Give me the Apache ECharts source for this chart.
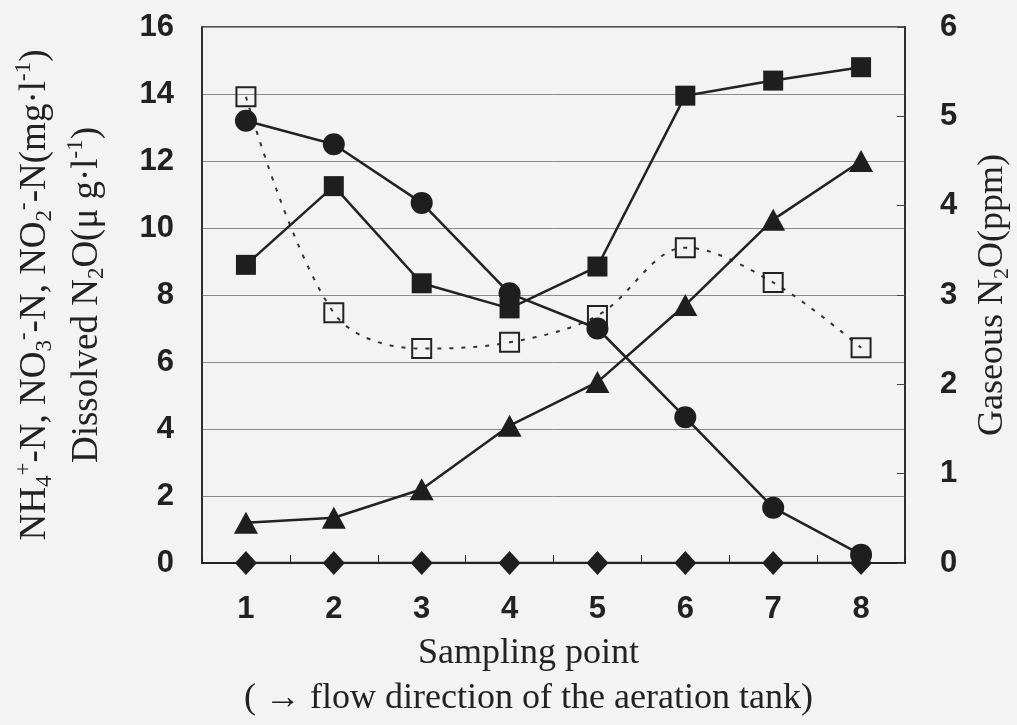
<!DOCTYPE html>
<html><head><meta charset="utf-8">
<script src="https://cdn.jsdelivr.net/npm/echarts@6/dist/echarts.min.js"></script>
<style>html,body{margin:0;padding:0;background:#f3f3f3;}#c{width:1017px;height:725px;}</style>
</head><body><div id="c"></div>
<script>
const categories = ['1','2','3','4','5','6','7','8'];
const nh4 = [13.2, 12.5, 10.75, 8.05, 7.0, 4.35, 1.65, 0.25];      // filled circle
const no3 = [8.9, 11.25, 8.35, 7.6, 8.85, 13.95, 14.4, 14.8];       // filled square
const no2 = [1.2, 1.35, 2.2, 4.1, 5.4, 7.7, 10.25, 12.0];           // filled triangle
const dissolved = [0, 0, 0, 0, 0, 0, 0, 0];                        // filled diamond
const gaseous = [5.22, 2.8, 2.4, 2.47, 2.77, 3.53, 3.14, 2.41];     // open square (right axis)
const leftTicks = {min: 0, max: 16, interval: 2};
const rightTicks = {min: 0, max: 6, interval: 1};

const serif = '"Liberation Serif","Times New Roman",serif';
const sans = '"Liberation Sans",Arial,sans-serif';
function makeRich(fs, lh) {
  const s = Math.round(fs * 0.62);
  return {
    n: {fontFamily: serif, fontSize: fs, color: '#222', lineHeight: lh},
    sub: {fontFamily: serif, fontSize: s, color: '#222', padding: [Math.round(fs * 0.53), 0, 0, 0]},
    sup: {fontFamily: serif, fontSize: s, color: '#222', padding: [0, 0, Math.round(fs * 0.59), 0]}
  };
}
const tickFont = {fontFamily: sans, fontSize: 31, fontWeight: 'bold', color: '#222'};
const chart = echarts.init(document.getElementById('c'));
const lineBase = {type: 'line', symbolKeepAspect: true, z: 3};
chart.setOption({
  backgroundColor: '#f3f3f3',
  animation: false,
  grid: {left: 202, right: 112, top: 27, bottom: 162, containLabel: false, outerBoundsMode: 'none',
    show: true, borderColor: '#222', borderWidth: 1.5, backgroundColor: 'transparent'},
  xAxis: {
    type: 'category', data: categories, boundaryGap: true,
    axisLine: {lineStyle: {color: '#222', width: 2}},
    axisTick: {show: true, inside: true, length: 8, lineStyle: {color: '#222', width: 1}},
    axisLabel: Object.assign({margin: 31}, tickFont),
    name: '{n|Sampling point}\n{n|( → flow direction of the aeration tank)}',
    nameLocation: 'middle', nameGap: 68,
    nameTextStyle: {rich: makeRich(36, 45), padding: [0, 50, 0, 0]}
  },
  yAxis: [{
    type: 'value', min: leftTicks.min, max: leftTicks.max, interval: leftTicks.interval,
    axisLine: {show: true, lineStyle: {color: '#222', width: 1.5}},
    axisTick: {show: false},
    splitLine: {show: true, lineStyle: {color: '#8a8a8a', width: 1}},
    axisLabel: Object.assign({margin: 28}, tickFont),
    name: '{n|NH}{sub|4}{sup|+}{n|-N, NO}{sub|3}{sup|-}{n|-N, NO}{sub|2}{sup|-}{n|-N(mg·l}{sup|-1}{n|)}\n{n|Dissolved N}{sub|2}{n|O(}{n|μ g·l}{sup|-1}{n|)}',
    nameLocation: 'middle', nameRotate: 90, nameGap: 89,
    nameTextStyle: {rich: makeRich(37, 52)}
  }, {
    type: 'value', min: rightTicks.min, max: rightTicks.max, interval: rightTicks.interval,
    position: 'right',
    axisLine: {show: true, lineStyle: {color: '#222', width: 1.5}},
    axisTick: {show: true, inside: true, length: 8, lineStyle: {color: '#444', width: 1}},
    splitLine: {show: false},
    axisLabel: Object.assign({margin: 35}, tickFont),
    name: '{n|Gaseous N}{sub|2}{n|O(ppm)}',
    nameLocation: 'middle', nameRotate: 90, nameGap: 65,
    nameTextStyle: {rich: makeRich(36, 45)}
  }],
  series: [
    Object.assign({}, lineBase, {name: 'Gaseous', data: gaseous, yAxisIndex: 1, smooth: 0.35,
      symbol: 'rect', symbolSize: 19,
      lineStyle: {color: '#333', width: 2, type: [4, 8]},
      itemStyle: {color: 'rgba(0,0,0,0)', borderColor: '#222', borderWidth: 2}}),
    Object.assign({}, lineBase, {name: 'NO3', data: no3, symbol: 'rect', symbolSize: 20,
      lineStyle: {color: '#222', width: 2.5}, itemStyle: {color: '#1e1e1e'}}),
    Object.assign({}, lineBase, {name: 'NO2', data: no2, symbol: 'triangle', symbolSize: [24, 22],
      lineStyle: {color: '#222', width: 2.5}, itemStyle: {color: '#1e1e1e'}}),
    Object.assign({}, lineBase, {name: 'NH4', data: nh4, symbol: 'circle', symbolSize: 22,
      lineStyle: {color: '#222', width: 2.5}, itemStyle: {color: '#1e1e1e'}}),
    Object.assign({}, lineBase, {name: 'Dissolved', data: dissolved, symbol: 'diamond', symbolSize: [22, 24],
      lineStyle: {color: '#222', width: 2.5}, itemStyle: {color: '#1e1e1e'}})
  ]
});
</script></body></html>
